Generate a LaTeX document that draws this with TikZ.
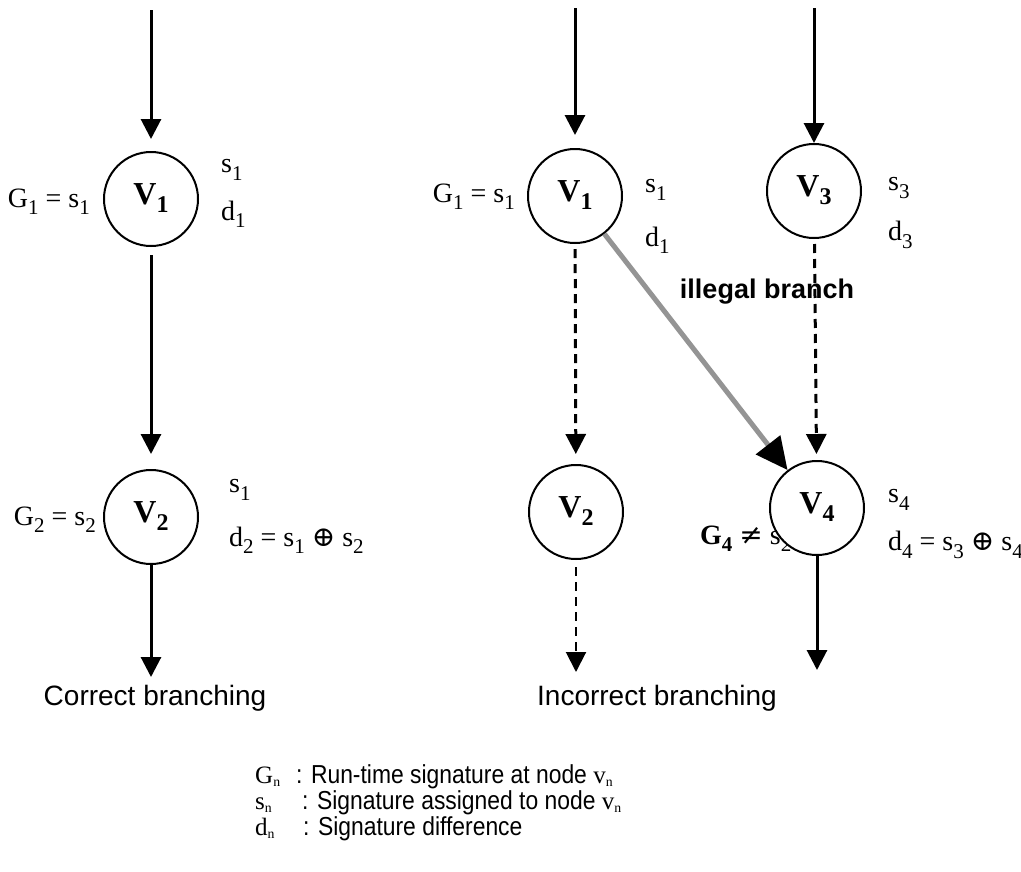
\documentclass[tikz,border=0pt]{standalone}
\usepackage{graphicx}
\usepackage{fontspec}
\setmainfont{Liberation Serif}
\newfontfamily\arialf{Liberation Sans}
\newfontfamily\arialn[FakeStretch=0.88]{Liberation Sans}
\newfontfamily\symf{DejaVu Serif}
\usetikzlibrary{arrows.meta}
% lowered, reduced index as used in the labels
\newcommand{\lowix}[1]{\raisebox{-0.26em}{\scalebox{0.75}{#1}}}
% smaller index for the key below the diagram
\newcommand{\keyix}[1]{\raisebox{-0.12em}{\scalebox{0.55}{#1}}}
\tikzset{
  vtx/.style={circle, draw, line width=2pt, minimum size=94pt, inner sep=0pt,
    fill=white, font=\bfseries\fontsize{32}{32}\selectfont},
  lbl/.style={font=\fontsize{28}{28}\selectfont, inner sep=0pt},
  captxt/.style={font=\arialf\fontsize{28}{28}\selectfont, inner sep=0pt},
  legs/.style={font=\fontsize{25}{25}\selectfont, inner sep=0pt, anchor=base west},
  legt/.style={font=\arialn\fontsize{26}{26}\selectfont, inner sep=0pt, anchor=base west},
  flow/.style={line width=3pt, -{Triangle[length=20pt,width=20pt]}},
  dflow/.style={flow, dash pattern=on 9pt off 6pt},
  thinflow/.style={line width=2pt, dash pattern=on 9pt off 6pt, -{Triangle[length=20pt,width=20pt]}},
  badflow/.style={line width=5pt, draw=black!42, -{Triangle[length=32pt,width=30pt,color=black]}}
}
\begin{document}
\begin{tikzpicture}[x=1pt,y=-1pt]
\useasboundingbox (0,0) rectangle (1021,871);

% ---- correct branching ----
\node[vtx] (L1) at (151,199) {\raisebox{10pt}{V\lowix{1}}};
\node[vtx] (L2) at (151,517) {\raisebox{10pt}{V\lowix{2}}};
\coordinate (Ltop) at (151,10);
\coordinate (Lbot) at (151,677);
\draw[flow, shorten >=12pt] (Ltop) -- (L1);
\draw[flow, shorten <=8pt, shorten >=15pt] (L1) -- (L2);
\draw[flow] (L2) -- (Lbot);

\node[lbl, anchor=east] (lg1) at (90,202) {G\lowix{1} = s\lowix{1}};
\node[lbl, anchor=west] (ls1) at (221,170) {s\lowix{1}};
\node[lbl, anchor=west] (ld1) at (221,214) {d\lowix{1}};
\node[lbl, anchor=east] (lg2) at (96,520) {G\lowix{2} = s\lowix{2}};
\node[lbl, anchor=west] (ls2) at (229,490) {s\lowix{1}};
\node[lbl, anchor=west] (ld2) at (229,540) {d\lowix{2} = s\lowix{1} {\symf ⊕} s\lowix{2}};
\node[captxt] (capL) at (155,698) {Correct branching};

% ---- incorrect branching ----
\node[lbl, anchor=west] (rg4) at (700,539) {\textbf{G\lowix{4}} {\symf ≠} s\lowix{2}};

\node[vtx] (R1) at (575,196) {\raisebox{10pt}{V\lowix{1}}};
\node[vtx] (R2) at (576,512) {\raisebox{10pt}{V\lowix{2}}};
\node[vtx] (R3) at (814,191) {\raisebox{10pt}{V\lowix{3}}};
\node[vtx] (R4) at (817,508) {\raisebox{10pt}{V\lowix{4}}};
\coordinate (R1top) at (575,8);
\coordinate (R3top) at (814,8);
\coordinate (R2bot) at (576,672);
\coordinate (R4bot) at (817,670);

\draw[flow, shorten >=13pt] (R1top) -- (R1);
\draw[flow] (R3top) -- (R3);
\draw[dflow, shorten <=5pt, shorten >=10pt] (R1) -- (R2);
\draw[dflow, shorten <=5pt, shorten >=6pt] (R3) -- (R4);
\draw[badflow] (R1) -- (R4);
\draw[thinflow, shorten <=7pt] (R2) -- (R2bot);
\draw[flow] (R4) -- (R4bot);

\node[lbl, anchor=east] (rg1) at (515,197) {G\lowix{1} = s\lowix{1}};
\node[lbl, anchor=west] (rs1) at (645,190) {s\lowix{1}};
\node[lbl, anchor=west] (rd1) at (645,240) {d\lowix{1}};
\node[lbl, anchor=west] (rs3) at (888,188) {s\lowix{3}};
\node[lbl, anchor=west] (rd3) at (888,235) {d\lowix{3}};
\node[lbl, anchor=west] (rs4) at (888,500) {s\lowix{4}};
\node[lbl, anchor=west] (rd4) at (888,545) {d\lowix{4} = s\lowix{3} {\symf ⊕} s\lowix{4}};
\node[captxt, font=\arialf\bfseries\fontsize{27}{27}\selectfont] (ill) at (767,292) {illegal branch};
\node[captxt] (capR) at (657,698) {Incorrect branching};

% ---- key ----
\node[legs] (kG) at (255,783) {G\keyix{n}};
\node[legt] (tG) at (296,783) {: Run-time signature at node {\rmfamily\fontsize{25}{25}\selectfont v\keyix{n}}};
\node[legs] (kS) at (255,809) {s\keyix{n}};
\node[legt] (tS) at (302,809) {: Signature assigned to node {\rmfamily\fontsize{25}{25}\selectfont v\keyix{n}}};
\node[legs] (kD) at (255,835) {d\keyix{n}};
\node[legt] (tD) at (303,835) {: Signature difference};
\end{tikzpicture}
\end{document}
